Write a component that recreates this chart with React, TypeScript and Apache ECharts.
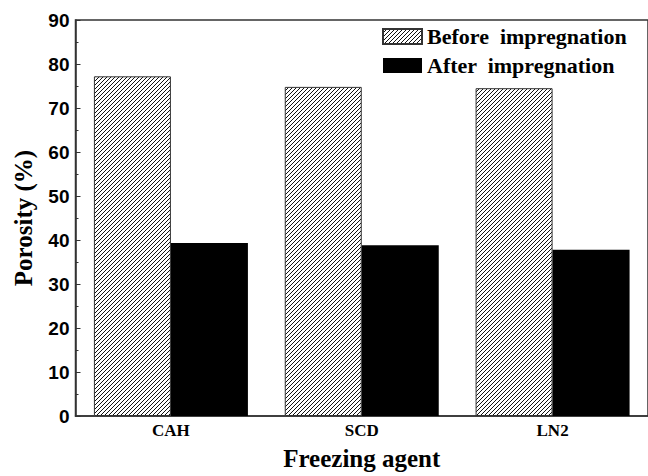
import React, { useEffect, useRef } from "react";
import * as echarts from "echarts";

const categories = ["CAH", "SCD", "LN2"];
const beforeValues = [77.2, 74.8, 74.5];
const afterValues = [39.3, 38.8, 37.8];
const seriesNames = ["Before  impregnation", "After  impregnation"];

function makeHatch(): HTMLCanvasElement {
  const c = document.createElement("canvas");
  c.width = 4;
  c.height = 4;
  const ctx = c.getContext("2d")!;
  ctx.fillStyle = "#fff";
  ctx.fillRect(0, 0, 4, 4);
  ctx.fillStyle = "#111";
  for (let i = 0; i < 4; i++) {
    ctx.fillRect(3 - i, i, 1, 1);
  }
  return c;
}

export default function App() {
  const ref = useRef<HTMLDivElement>(null);
  useEffect(() => {
    if (!ref.current) return;
    const chart = echarts.init(ref.current, null, { renderer: "svg" });
    const hatch = { image: makeHatch(), repeat: "repeat" } as any;
    const serif = "Liberation Serif";
    chart.setOption({
      animation: false,
      backgroundColor: "#fff",
      grid: {
        left: 75.5,
        top: 20,
        width: 576,
        height: 402.5,
        show: true,
        borderColor: "#333",
        borderWidth: 1.5,
        backgroundColor: "transparent",
      },
      legend: {
        orient: "vertical",
        left: 382,
        top: 25,
        padding: 0,
        itemWidth: 39,
        itemHeight: 15,
        itemGap: 6,
        icon: "rect",
        textStyle: { fontFamily: serif, fontWeight: "bold", fontSize: 22, color: "#000", lineHeight: 23 },
        data: seriesNames,
      },
      xAxis: {
        type: "category",
        data: categories,
        name: "Freezing agent",
        nameLocation: "middle",
        nameGap: 30,
        nameTextStyle: { fontFamily: serif, fontWeight: "bold", fontSize: 25, color: "#000" },
        axisLine: { lineStyle: { color: "#333", width: 1.5 } },
        axisTick: { inside: true, length: 5, lineStyle: { color: "#333" } },
        axisLabel: { fontFamily: serif, fontWeight: "bold", fontSize: 17, color: "#000", margin: 6 },
      },
      yAxis: {
        type: "value",
        min: 0,
        max: 90,
        interval: 10,
        name: "Porosity (%)",
        nameLocation: "middle",
        nameGap: 40,
        nameTextStyle: { fontFamily: serif, fontWeight: "bold", fontSize: 25, color: "#000" },
        axisLine: { show: true, lineStyle: { color: "#333", width: 1.5 } },
        axisTick: { show: true, inside: true, length: 5, lineStyle: { color: "#333" } },
        minorTick: { show: true, splitNumber: 2, length: 3, lineStyle: { color: "#333" } },
        splitLine: { show: false },
        axisLabel: { fontFamily: "Liberation Sans", fontWeight: "bold", fontSize: 19, color: "#000", margin: 6 },
      },
      series: [
        {
          name: seriesNames[0],
          type: "bar",
          data: beforeValues,
          barWidth: 77,
          barGap: "0%",
          itemStyle: { color: hatch, borderColor: "#333", borderWidth: 1 },
        },
        {
          name: seriesNames[1],
          type: "bar",
          data: afterValues,
          barWidth: 77,
          barGap: "0%",
          itemStyle: { color: "#000" },
        },
      ],
    });
    return () => chart.dispose();
  }, []);
  return (
    <div
      ref={ref}
      style={{ width: 648, height: 476, position: "absolute", left: 0, top: 0, overflow: "hidden" }}
    />
  );
}
